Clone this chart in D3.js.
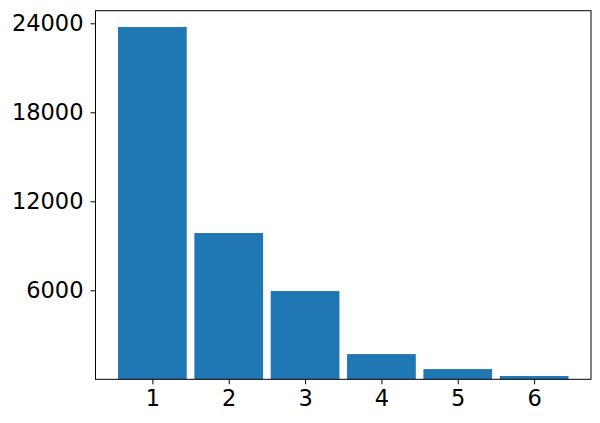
<!DOCTYPE html>
<html>
<head>
<meta charset="utf-8">
<script src="https://cdn.jsdelivr.net/npm/d3@7"></script>
<style>
  html, body { margin: 0; padding: 0; background: #fff; }
  svg { display: block; }
  text { font-family: "DejaVu Sans", sans-serif; }
</style>
</head>
<body>
<div id="chart"></div>
<script>
const categories = [1, 2, 3, 4, 5, 6];
const values = [23750, 9860, 5950, 1700, 690, 220];
const yTicks = [6000, 12000, 18000, 24000];

const W = 600, H = 423;
const mLeft = 95.5, mRight = 591, mTop = 10.7, mBottom = 379.3;

const svg = d3.select("#chart").append("svg").attr("width", W).attr("height", H);

const x = d3.scaleLinear().domain([0.255, 6.745]).range([mLeft, mRight]);
const y = d3.scaleLinear().domain([0, 24850]).range([mBottom, mTop]);
const barW = 0.9;

svg.append("g").selectAll("rect").data(categories).join("rect")
  .attr("x", (d) => x(d - barW / 2))
  .attr("width", (d) => x(d + barW / 2) - x(d - barW / 2))
  .attr("y", (d, i) => y(values[i]))
  .attr("height", (d, i) => y(0) - y(values[i]))
  .attr("fill", "#1f77b4");

const xAxis = d3.axisBottom(x).tickValues(categories).tickFormat(d3.format("d")).tickSize(5).tickPadding(6);
const yAxis = d3.axisLeft(y).tickValues(yTicks).tickFormat(d3.format("d")).tickSize(5).tickPadding(7);

const gx = svg.append("g").attr("transform", `translate(0,${mBottom})`).call(xAxis);
const gy = svg.append("g").attr("transform", `translate(${mLeft},0)`).call(yAxis);
[gx, gy].forEach(g => {
  g.select(".domain").remove();
  g.selectAll("line").attr("stroke", "#000").attr("stroke-width", 1);
  g.selectAll("text").attr("font-size", 22.5).attr("fill", "#000").attr("font-family", "DejaVu Sans");
});

svg.append("rect")
  .attr("x", mLeft).attr("y", mTop)
  .attr("width", mRight - mLeft).attr("height", mBottom - mTop)
  .attr("fill", "none").attr("stroke", "#000").attr("stroke-width", 1);
</script>
</body>
</html>
